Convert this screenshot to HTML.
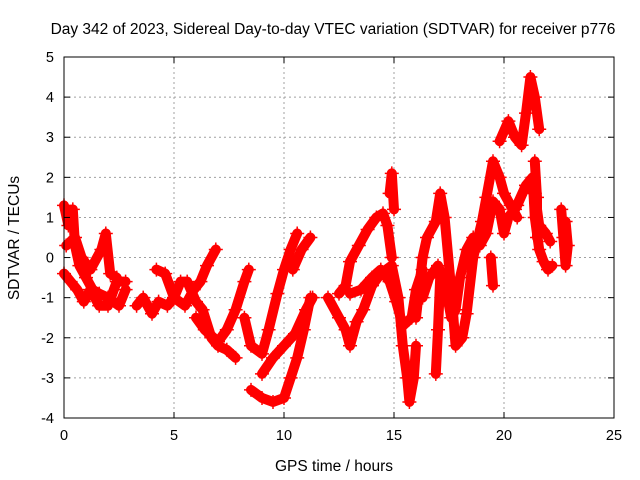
<!DOCTYPE html>
<html><head><meta charset="utf-8"><style>
html,body{margin:0;padding:0;background:#fff;}
svg{display:block;font-family:"Liberation Sans",sans-serif;}
</style></head><body>
<svg id="chart" width="640" height="480">
<text x="333" y="34" font-size="15.5" text-anchor="middle">Day 342 of 2023, Sidereal Day-to-day VTEC variation (SDTVAR) for receiver p776</text>
<text x="334" y="471" font-size="15.5" text-anchor="middle">GPS time / hours</text>
<text transform="translate(19,238) rotate(-90)" font-size="15.5" text-anchor="middle">SDTVAR / TECUs</text>
<g id="grid"></g><g id="marks"></g><g id="axes"></g>
</svg>
<script>
const xTicks=[0,5,10,15,20,25];
const yTicks=[-4,-3,-2,-1,0,1,2,3,4,5];
const trackA=[[0,1.3],[0.2,0.8],[0.4,1.2],[0.5,0.3],[0.7,-0.2],[1.0,-0.5],[1.3,-0.8],[1.6,-0.9],[2.0,-1.0],[2.5,-1.2],[2.8,-0.8]];
const trackB=[[0,-0.4],[0.3,-0.6],[0.6,-0.8],[0.9,-1.1],[1.2,-0.8],[1.6,-1.2],[2.0,-1.2],[2.4,-0.6],[2.8,-0.6]];
const trackC=[[0.1,0.3],[0.5,0.5],[0.8,0.0],[1.2,-0.3],[1.7,0.2],[1.9,0.6],[2.1,-0.4],[2.4,-0.5]];
const trackD=[[3.3,-1.2],[3.6,-1.0],[4.0,-1.4],[4.3,-1.1],[4.7,-1.2],[5.0,-1.0],[5.3,-0.6],[5.6,-0.6],[6.0,-1.1],[6.3,-1.3],[6.7,-2.0],[7.0,-2.2],[7.4,-2.3],[7.8,-2.5]];
const trackE=[[4.2,-0.3],[4.6,-0.4],[5.0,-1.0],[5.5,-1.2],[5.9,-0.8],[6.2,-0.6],[6.5,-0.2],[6.9,0.2]];
const trackF=[[6.0,-1.5],[6.4,-1.8],[7.0,-2.1],[7.4,-1.8],[7.8,-1.3],[8.2,-0.6],[8.4,-0.3]];
const trackG=[[8.2,-1.5],[8.5,-2.2],[9.0,-2.4],[9.3,-1.8],[9.7,-0.9],[10.0,-0.3],[10.3,0.2],[10.6,0.6]];
const trackH=[[8.5,-3.3],[9.0,-3.5],[9.5,-3.6],[10.0,-3.5],[10.3,-3.0],[10.6,-2.5],[10.9,-1.8],[11.2,-1.0]];
const trackI=[[9.0,-2.9],[9.5,-2.5],[10.0,-2.2],[10.5,-1.9],[11.0,-1.3],[11.3,-1.0]];
const trackJ=[[10.4,-0.3],[10.8,0.2],[11.2,0.5]];
const trackK=[[12.0,-1.0],[12.5,-1.5],[12.8,-1.8],[13.0,-2.2],[13.3,-1.6],[13.6,-1.3],[14.0,-0.7],[14.4,-0.4],[14.9,-0.2],[15.2,-1.0],[15.4,-2.2],[15.6,-3.0],[15.7,-3.6],[15.9,-3.0],[16.0,-2.2]];
const trackL=[[12.5,-0.9],[12.8,-0.7],[13.0,-0.1],[13.4,0.3],[13.8,0.7],[14.2,1.0],[14.5,1.1],[14.7,0.8],[14.9,0.0]];
const trackM=[[13.0,-0.9],[13.5,-0.8],[14.0,-0.5],[14.4,-0.3],[14.8,-0.6],[15.1,-1.1],[15.4,-1.7],[15.8,-1.5],[16.0,-0.8],[16.3,-0.3]];
const trackS=[[14.8,1.6],[14.9,2.1],[15.0,1.2]];
const trackN=[[16.0,-1.5],[16.3,0.0],[16.5,0.5],[16.9,0.9],[17.1,1.6],[17.3,1.0],[17.6,-0.8],[17.8,-2.2],[18.1,-2.0],[18.3,-1.4],[18.6,0.0],[19.0,0.9],[19.2,1.5],[19.5,2.4],[19.8,2.0],[20.0,1.6],[20.3,1.3],[20.6,1.0]];
const trackO=[[16.3,-1.0],[16.6,-0.5],[17.0,-0.2],[17.3,-0.6],[17.6,-1.5],[17.8,-1.3],[18.0,-0.5],[18.3,0.2],[18.6,0.5],[18.9,0.3],[19.2,0.6],[19.5,1.4],[19.8,1.2],[20.0,0.6],[20.2,1.0],[20.6,1.3],[21.0,1.8],[21.3,2.0],[21.4,1.0],[21.6,0.2],[21.8,-0.1],[22.0,-0.3],[22.2,-0.2]];
const trackU=[[19.8,2.9],[20.2,3.4],[20.5,3.0],[20.8,2.8],[21.0,3.6],[21.2,4.5],[21.4,4.0],[21.6,3.2]];
const trackV=[[17.1,-0.5],[17.0,-1.8],[16.9,-2.9]];
const trackP=[[20.5,1.2],[21.0,1.8],[21.4,1.6],[21.6,0.8],[21.9,0.6],[22.1,0.4]];
const trackQ=[[22.6,1.2],[22.7,0.5],[22.8,-0.2],[22.9,0.3],[22.8,0.9]];
const trackR=[[21.4,2.4],[21.5,1.5],[21.5,0.5]];
const trackW=[[19.4,0.0],[19.5,-0.7]];
const tracks=[trackA,trackB,trackC,trackD,trackE,trackF,trackG,trackH,trackI,trackJ,trackK,trackL,trackM,trackS,trackN,trackO,trackU,trackV,trackP,trackQ,trackR,trackW];

const X0=64,X1=614,Y0=418,Y1=57;
const xs=v=>X0+(v-0)/25*(X1-X0);
const ys=v=>Y0-(v+4)/9*(Y0-Y1);
const NS="http://www.w3.org/2000/svg";
function mk(tag,attrs,parent){const e=document.createElementNS(NS,tag);for(const k in attrs)e.setAttribute(k,attrs[k]);parent.appendChild(e);return e;}
const grid=document.getElementById('grid'),axes=document.getElementById('axes'),marks=document.getElementById('marks');
xTicks.forEach(t=>{
  const x=xs(t);
  if(t>0&&t<25){const g=mk('line',{x1:x,x2:x,y1:Y1,y2:Y0,stroke:'#a0a0a0','stroke-dasharray':'2,3'},grid);
  
  }
  const l=mk('text',{x:x,y:Y0+22,'font-size':14.5,'text-anchor':'middle'},axes);l.textContent=t;
  
  
  mk('line',{x1:x,x2:x,y1:Y0,y2:Y0-6,stroke:'#000'},axes);
  mk('line',{x1:x,x2:x,y1:Y1,y2:Y1+6,stroke:'#000'},axes);
});
yTicks.forEach(t=>{
  const y=ys(t);
  if(t>-4&&t<5){const g=mk('line',{x1:X0,x2:X1,y1:y,y2:y,stroke:'#a0a0a0','stroke-dasharray':'2,3'},grid);
  
  }
  const l=mk('text',{x:X0-10,y:y+5,'font-size':14.5,'text-anchor':'end'},axes);l.textContent=t;
  
  
  mk('line',{x1:X0,x2:X0+6,y1:y,y2:y,stroke:'#000'},axes);
  mk('line',{x1:X1,x2:X1-6,y1:y,y2:y,stroke:'#000'},axes);
});
const fr=mk('rect',{x:X0,y:Y1,width:X1-X0,height:Y0-Y1,fill:'none',stroke:'#000'},axes);


tracks.forEach(tr=>{
  const pts=tr.map(p=>xs(p[0])+','+ys(p[1])).join(' ');
  const pl=mk('polyline',{points:pts,fill:'none',stroke:'#ff0000','stroke-width':10,'stroke-linejoin':'round','stroke-linecap':'round'},marks);
  
  
  tr.forEach(p=>{
    const x=xs(p[0]),y=ys(p[1]);
    const m=mk('path',{d:`M${x-7},${y}H${x+7}M${x},${y-7}V${y+7}`,stroke:'#ff0000','stroke-width':1.5},marks);
    
    
  });
});
</script>
</body></html>
